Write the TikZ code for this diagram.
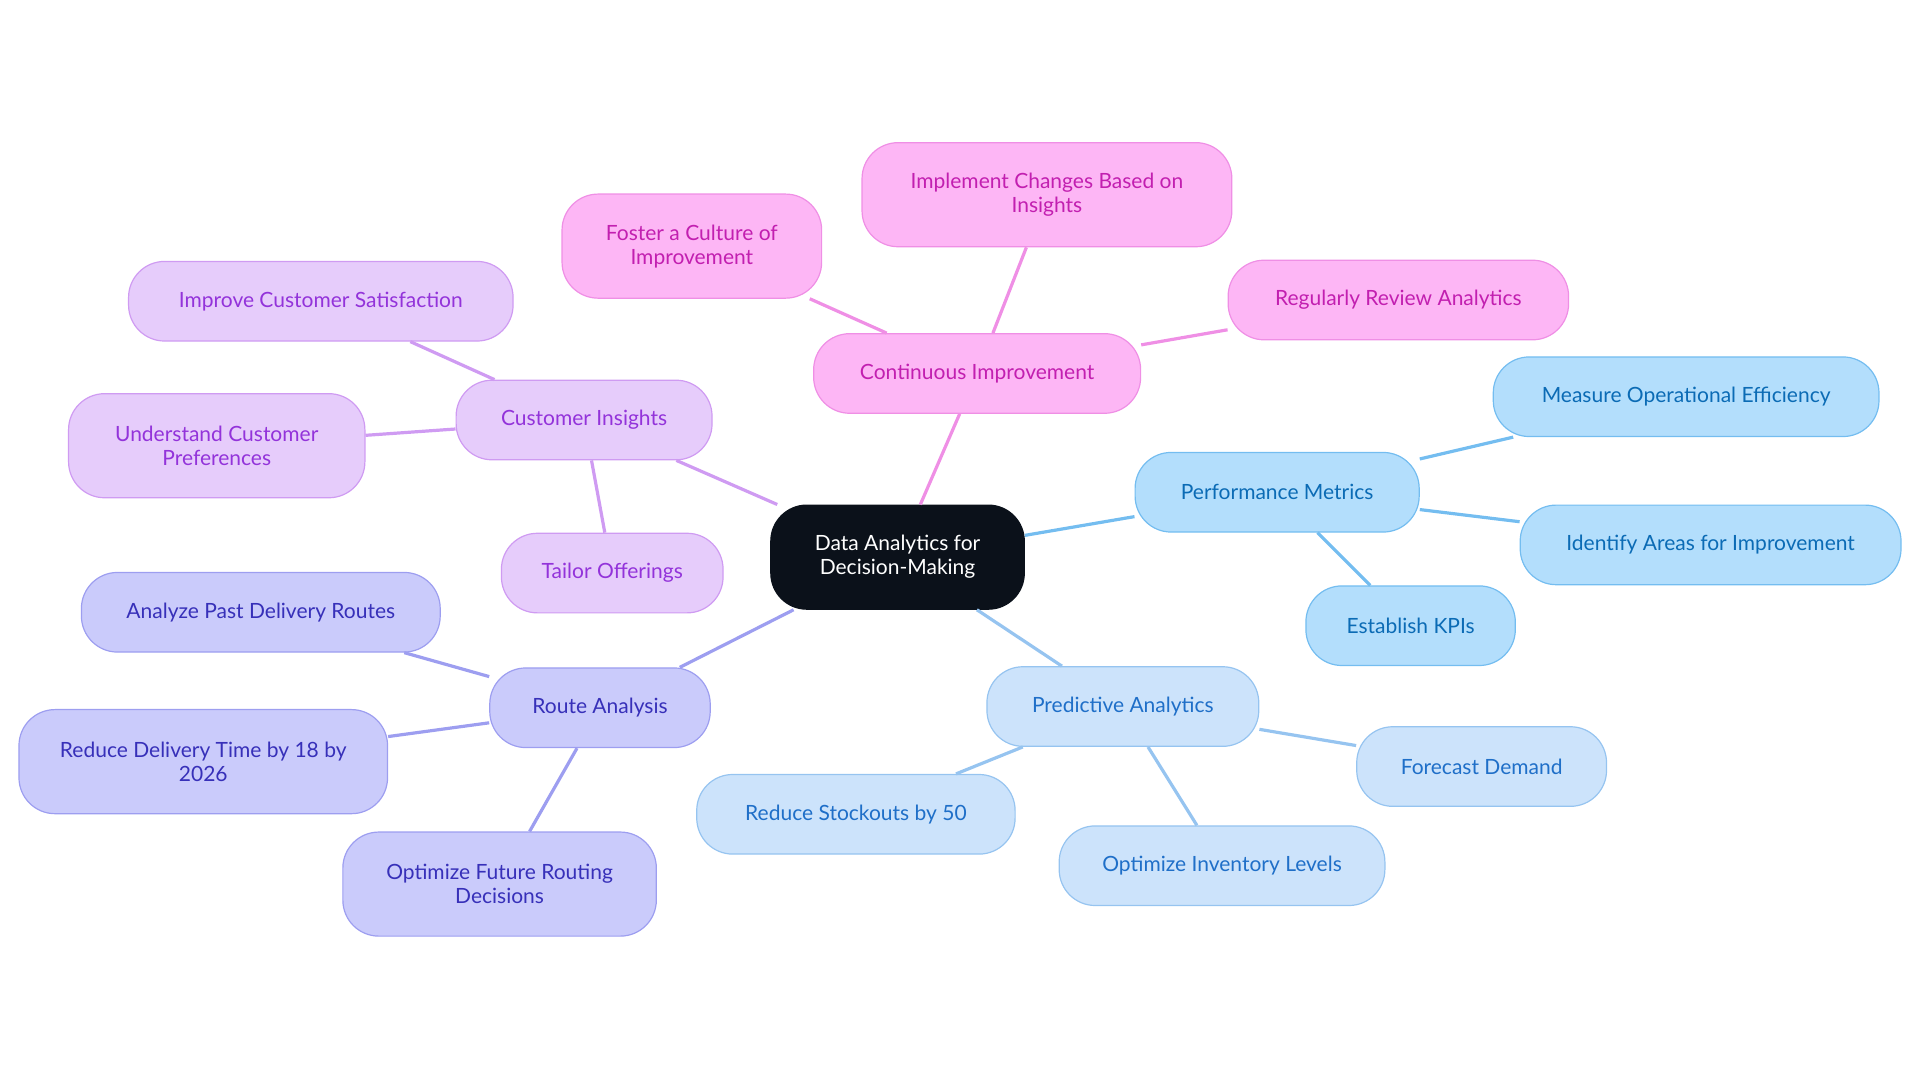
\documentclass[tikz,border=0pt]{standalone}
\usepackage{fontspec}
\setmainfont{Lato}
\definecolor{rootfill}{HTML}{0B111A}
\definecolor{pinkfill}{HTML}{FDB6F5}\definecolor{pinkline}{HTML}{EF8FE5}\definecolor{pinktext}{HTML}{C21FB0}
\definecolor{purpfill}{HTML}{E6CCFB}\definecolor{purpline}{HTML}{CF9BF2}\definecolor{purptext}{HTML}{9333DA}
\definecolor{indfill}{HTML}{CACBFB}\definecolor{indline}{HTML}{9D9EF0}\definecolor{indtext}{HTML}{3730B9}
\definecolor{bluefill}{HTML}{B3DEFC}\definecolor{blueline}{HTML}{74BDF0}\definecolor{bluetext}{HTML}{0B6BB5}
\definecolor{skyfill}{HTML}{CCE3FB}\definecolor{skyline}{HTML}{96C4F0}\definecolor{skytext}{HTML}{1F6FC8}
\tikzset{
  box/.style={rounded corners=18pt, align=center, inner sep=0pt, font=\fontsize{10.5}{12}\selectfont, line width=0.6pt},
  pink/.style={box, fill=pinkfill, draw=pinkline, text=pinktext},
  purp/.style={box, fill=purpfill, draw=purpline, text=purptext},
  ind/.style={box, fill=indfill, draw=indline, text=indtext},
  blue/.style={box, fill=bluefill, draw=blueline, text=bluetext},
  sky/.style={box, fill=skyfill, draw=skyline, text=skytext},
  sz/.style 2 args={minimum width=#1*0.6123pt, minimum height=#2*0.6123pt},
}
\begin{document}
\begin{tikzpicture}[x=0.6123pt,y=0.6123pt,yscale=-1]
\useasboundingbox (0,0) rectangle (1568,884.5);

% Nodes
\node[box, fill=rootfill, draw=rootfill, text=white, sz={207}{85}] (root) at (733,455) {Data Analytics for\\Decision-Making};

\node[pink, sz={267}{65}] (ci) at (798,305) {Continuous Improvement};
\node[pink, sz={302}{85}] (ci1) at (855,159) {Implement Changes Based on\\Insights};
\node[pink, sz={212}{85}] (ci2) at (565,201) {Foster a Culture of\\Improvement};
\node[pink, sz={278}{65}] (ci3) at (1142,245) {Regularly Review Analytics};

\node[purp, sz={209}{65}] (cu) at (477,343) {Customer Insights};
\node[purp, sz={314}{65}] (cu1) at (262,246) {Improve Customer Satisfaction};
\node[purp, sz={242}{85}] (cu2) at (177,364) {Understand Customer\\Preferences};
\node[purp, sz={181}{65}] (cu3) at (500,468) {Tailor Offerings};

\node[ind, sz={180}{65}] (ra) at (490,578) {Route Analysis};
\node[ind, sz={293}{65}] (ra1) at (213,500) {Analyze Past Delivery Routes};
\node[ind, sz={301}{85}] (ra2) at (166,622) {Reduce Delivery Time by 18 by\\2026};
\node[ind, sz={256}{85}] (ra3) at (408,722) {Optimize Future Routing\\Decisions};

\node[blue, sz={232}{65}] (pm) at (1043,402) {Performance Metrics};
\node[blue, sz={315}{65}] (pm1) at (1377,324) {Measure Operational Efficiency};
\node[blue, sz={311}{65}] (pm2) at (1397,445) {Identify Areas for Improvement};
\node[blue, sz={171}{65}] (pm3) at (1152,511) {Establish KPIs};

\node[sky, sz={222}{65}] (pa) at (917,577) {Predictive Analytics};
\node[sky, sz={204}{65}] (pa1) at (1210,626) {Forecast Demand};
\node[sky, sz={260}{65}] (pa2) at (699,665) {Reduce Stockouts by 50};
\node[sky, sz={266}{65}] (pa3) at (998,707) {Optimize Inventory Levels};

% Connectors
\begin{scope}[on background layer/.style={}, line width=1.6pt]
\draw[pinkline] (root) -- (ci) (ci) -- (ci1) (ci) -- (ci2) (ci) -- (ci3);
\draw[purpline] (root) -- (cu) (cu) -- (cu1) (cu) -- (cu2) (cu) -- (cu3);
\draw[indline] (root) -- (ra) (ra) -- (ra1) (ra) -- (ra2) (ra) -- (ra3);
\draw[blueline] (root) -- (pm) (pm) -- (pm1) (pm) -- (pm2) (pm) -- (pm3);
\draw[skyline] (root) -- (pa) (pa) -- (pa1) (pa) -- (pa2) (pa) -- (pa3);
\end{scope}
\end{tikzpicture}
\end{document}
